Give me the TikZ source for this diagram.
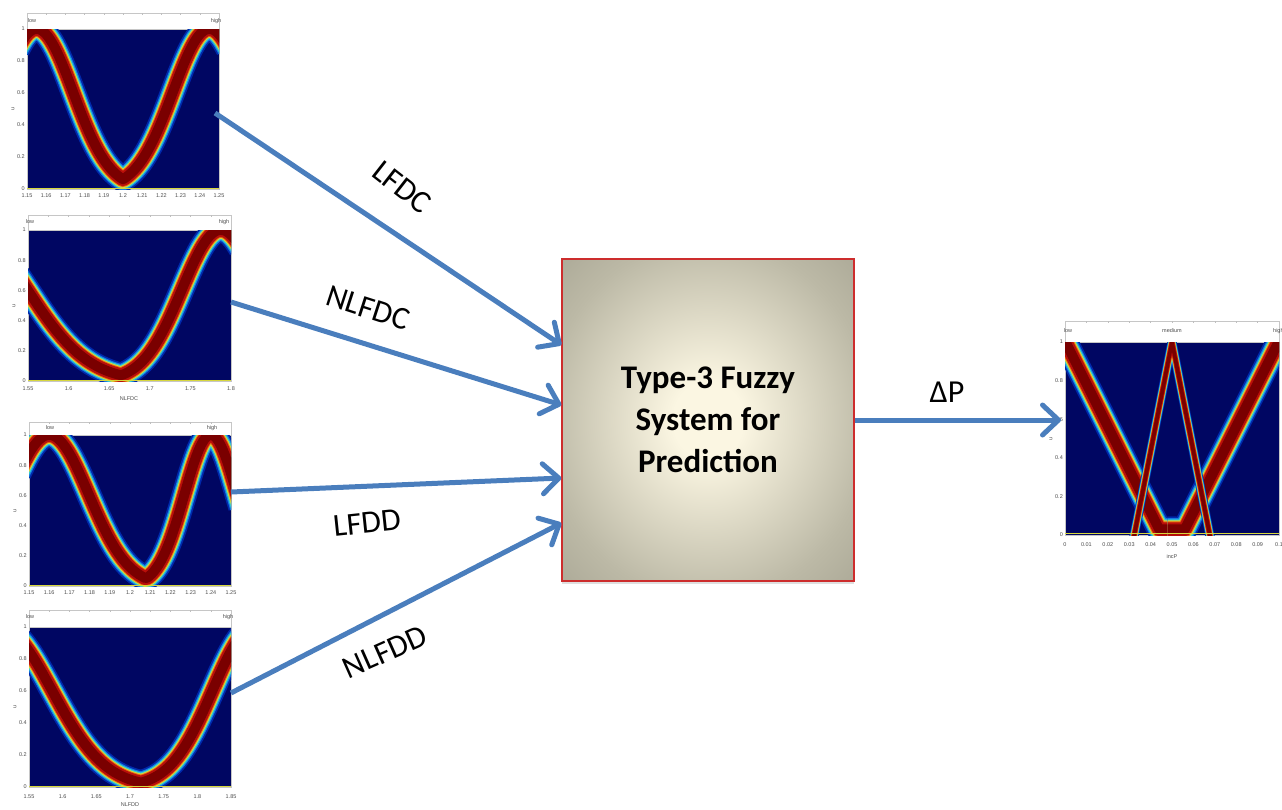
\documentclass[tikz,border=0pt]{standalone}
\usepackage{fontspec}
\setmainfont{Carlito}
\newfontfamily\axisfont{Liberation Sans}
\usetikzlibrary{arrows.meta, positioning, fit, shadows}

\definecolor{arrowblue}{RGB}{74,126,189}
\definecolor{boxred}{RGB}{205,45,45}
\definecolor{boxcore}{RGB}{251,246,226}
\definecolor{boxmid}{RGB}{188,185,166}
\definecolor{boxedge}{RGB}{145,143,127}
\definecolor{boxcorner}{RGB}{122,120,106}
\definecolor{mapnavy}{RGB}{0,6,98}
\definecolor{bandhalo}{RGB}{0,40,170}
\definecolor{bandglow}{RGB}{20,120,225}
\definecolor{bandcyan}{RGB}{50,205,210}
\definecolor{bandyellow}{RGB}{215,215,60}
\definecolor{bandorange}{RGB}{230,105,15}
\definecolor{bandred}{RGB}{185,15,10}
\definecolor{banddark}{RGB}{122,0,0}

\pgfdeclareradialshading{boxglow}{\pgfpointorigin}{%
  color(0bp)=(boxcore); color(6bp)=(boxcore); color(28bp)=(boxmid);
  color(50bp)=(boxedge); color(72bp)=(boxcorner)}

\tikzset{
  plotarea/.style={rectangle, draw=gray!45, fill=mapnavy, inner sep=0pt,
                   outer sep=0pt, line width=0.5pt},
  header/.style={rectangle, draw=gray!45, fill=white, inner sep=0pt,
                 outer sep=0pt, line width=0.5pt},
  ticklab/.style={font=\axisfont\fontsize{5.5}{6}\selectfont, text=black!70,
                  inner sep=0pt},
  fuzzybox/.style={rectangle, draw=boxred, line width=1.3pt, shading=boxglow,
                   inner sep=0pt, minimum width=292pt, minimum height=322pt,
                   align=center, font=\bfseries\fontsize{33}{42}\selectfont,
                   drop shadow={shadow xshift=0pt, shadow yshift=-3pt, opacity=0.25}},
  flow/.style={-{Straight Barb[length=16pt, width=30pt, round]}, draw=arrowblue,
               line width=5pt},
  flowlabel/.style={font=\fontsize{32}{38}\selectfont, inner sep=0pt},
  panel/.style n args={3}{shift={(#1.south west)}, x=#2pt, y=#3pt},
}

% one membership band, drawn as stacked strokes (heat-map look)
\newcommand{\mfband}[2][22]{%
  \foreach \bandcol/\bandf in {bandhalo/1.15, bandglow/1, bandcyan/0.9,
                               bandyellow/0.8, bandorange/0.71, bandred/0.63,
                               banddark/0.45}
    \draw[\bandcol, line width={\bandf*#1pt}, line join=round] #2;%
}

\begin{document}
\begin{tikzpicture}[x=1pt, y=-1pt]
  \useasboundingbox (0,0) rectangle (1282,809);

  % Plot frames: name/left/top/right/bottom/header top
  \foreach \name/\lx/\ty/\rx/\by/\hy in {lfdc/27/29/219/189/13,
      nlfdc/28/230/231/381/215, lfdd/29/435/231/586/422,
      nlfdd/29/627/231/787/610, incp/1065/342/1279/535/321}{
    \node[header, fit={(\lx,\hy) (\rx,\ty)}] (\name-head) {};
    \node[plotarea, fit={(\lx,\ty) (\rx,\by)}] (\name) {};
    \foreach \k in {1,...,9}
      \draw[gray!50, line width=0.4pt] ({\lx+\k*(\rx-\lx)/10},\hy) -- ++(0,2);
    \foreach \val [count=\n] in {0,0.2,0.4,0.6,0.8,1}
      \node[ticklab, anchor=east] (\name-y\n) at ({\lx-2},{\by-\val*(\by-\ty)}) {\val};
    \node[ticklab, rotate=90] (\name-u) at ({\lx-14},{(\ty+\by)/2}) {u};
  }

  % Membership bands
  \begin{scope}[panel={lfdc}{192}{160}]
    \clip (0,0) rectangle (1,1);
    \mfband{plot[domain=-0.05:1.05, samples=101] (\x, {max(exp(-(\x-0.05)*(\x-0.05)/0.0722),
                                                          exp(-(\x-0.95)*(\x-0.95)/0.0722))})}
    \draw[bandyellow, line width=1pt] (0,0.006) -- (1,0.006);
  \end{scope}
  \begin{scope}[panel={nlfdc}{203}{151}]
    \clip (0,0) rectangle (1,1);
    \mfband{plot[domain=-0.05:1.05, samples=101] (\x, {max(exp(-(\x+0.3)*(\x+0.3)/0.176),
                                                          exp(-(\x-0.95)*(\x-0.95)/0.0736))})}
    \draw[bandyellow, line width=1pt] (0,0.006) -- (1,0.006);
  \end{scope}
  \begin{scope}[panel={lfdd}{202}{151}]
    \clip (0,0) rectangle (1,1);
    \mfband{plot[domain=-0.05:1.05, samples=101] (\x, {max(exp(-(\x-0.1)*(\x-0.1)/0.0768),
                                                          exp(-(\x-0.9)*(\x-0.9)/0.034))})}
    \draw[bandyellow, line width=1pt] (0,0.006) -- (1,0.006);
  \end{scope}
  \begin{scope}[panel={nlfdd}{202}{160}]
    \clip (0,0) rectangle (1,1);
    \mfband{plot[domain=-0.05:1.05, samples=101] (\x, {max(exp(-(\x+0.15)*(\x+0.15)/0.138),
                                                          exp(-(\x-1.12)*(\x-1.12)/0.0886))})}
    \draw[bandyellow, line width=1pt] (0,0.006) -- (1,0.006);
  \end{scope}
  \begin{scope}[panel={incp}{214}{193}]
    \clip (0,0) rectangle (1,1);
    \mfband{(-0.02,1.05) -- (0.44,0.03) -- (0.52,0.03)}
    \mfband{(1.02,1.05) -- (0.56,0.03) -- (0.48,0.03)}
    \mfband[8]{(0.32,-0.02) -- (0.5,1) -- (0.68,-0.02)}
    \draw[bandyellow, line width=1pt] (0,0.006) -- (1,0.006);
  \end{scope}

  % Header labels
  \node[ticklab] (lfdc-low)   at (32,21)   {low};
  \node[ticklab] (lfdc-high)  at (216,21)  {high};
  \node[ticklab] (nlfdc-low)  at (30,222)  {low};
  \node[ticklab] (nlfdc-high) at (224,222) {high};
  \node[ticklab] (lfdd-low)   at (50,428)  {low};
  \node[ticklab] (lfdd-high)  at (212,428) {high};
  \node[ticklab] (nlfdd-low)  at (30,617)  {low};
  \node[ticklab] (nlfdd-high) at (228,617) {high};
  \node[ticklab] (incp-low)   at (1068,331) {low};
  \node[ticklab] (incp-med)   at (1172,331) {medium};
  \node[ticklab, anchor=west] (incp-high) at (1273,331) {high};

  % Axis tick labels
  \foreach \val [count=\n from 0] in {1.15,1.16,1.17,1.18,1.19,1.2,1.21,1.22,1.23,1.24,1.25}{
    \node[ticklab] (lfdc-x\n) at ({27+19.2*\n},196) {\val};
    \node[ticklab] (lfdd-x\n) at ({29+20.2*\n},593) {\val};
  }
  \foreach \val [count=\n from 0] in {1.55,1.6,1.65,1.7,1.75,1.8}
    \node[ticklab] (nlfdc-x\n) at ({28+40.6*\n},389) {\val};
  \foreach \val [count=\n from 0] in {1.55,1.6,1.65,1.7,1.75,1.8,1.85}
    \node[ticklab] (nlfdd-x\n) at ({29+33.67*\n},797) {\val};
  \foreach \val [count=\n from 0] in {0,0.01,0.02,0.03,0.04,0.05,0.06,0.07,0.08,0.09,0.1}
    \node[ticklab] (incp-x\n) at ({1065+21.4*\n},545) {\val};
  \node[ticklab] (nlfdc-xlab) at (129,399) {NLFDC};
  \node[ticklab] (nlfdd-xlab) at (130,805) {NLFDD};
  \node[ticklab] (incp-xlab)  at (1172,557) {incP};

  % Fuzzy system
  \node[fuzzybox] (core) at (708,420) {Type-3 Fuzzy\\System for\\Prediction};

  % Inputs and output
  \draw[flow] ([xshift=-4pt, yshift=-4pt]lfdc.east) -- ([yshift=75pt]core.west);
  \draw[flow] ([yshift=3.5pt]nlfdc.east) -- ([yshift=15pt]core.west);
  \draw[flow] ([yshift=18.5pt]lfdd.east) -- ([yshift=-58pt]core.west);
  \draw[flow] ([yshift=14pt]nlfdd.east) -- ([yshift=-103pt]core.west);
  \draw[flow] (core.east) -- ([xshift=-4pt, yshift=18.5pt]incp.west);

  \node[flowlabel, rotate=-38] (lab-lfdc)  at (402,187) {LFDC};
  \node[flowlabel, rotate=-18] (lab-nlfdc) at (368,308) {NLFDC};
  \node[flowlabel, rotate=6]   (lab-lfdd)  at (367,523) {LFDD};
  \node[flowlabel, rotate=24]  (lab-nlfdd) at (385,652) {NLFDD};
  \node[flowlabel]             (lab-dp)    at (947,392) {ΔP};
\end{tikzpicture}
\end{document}
